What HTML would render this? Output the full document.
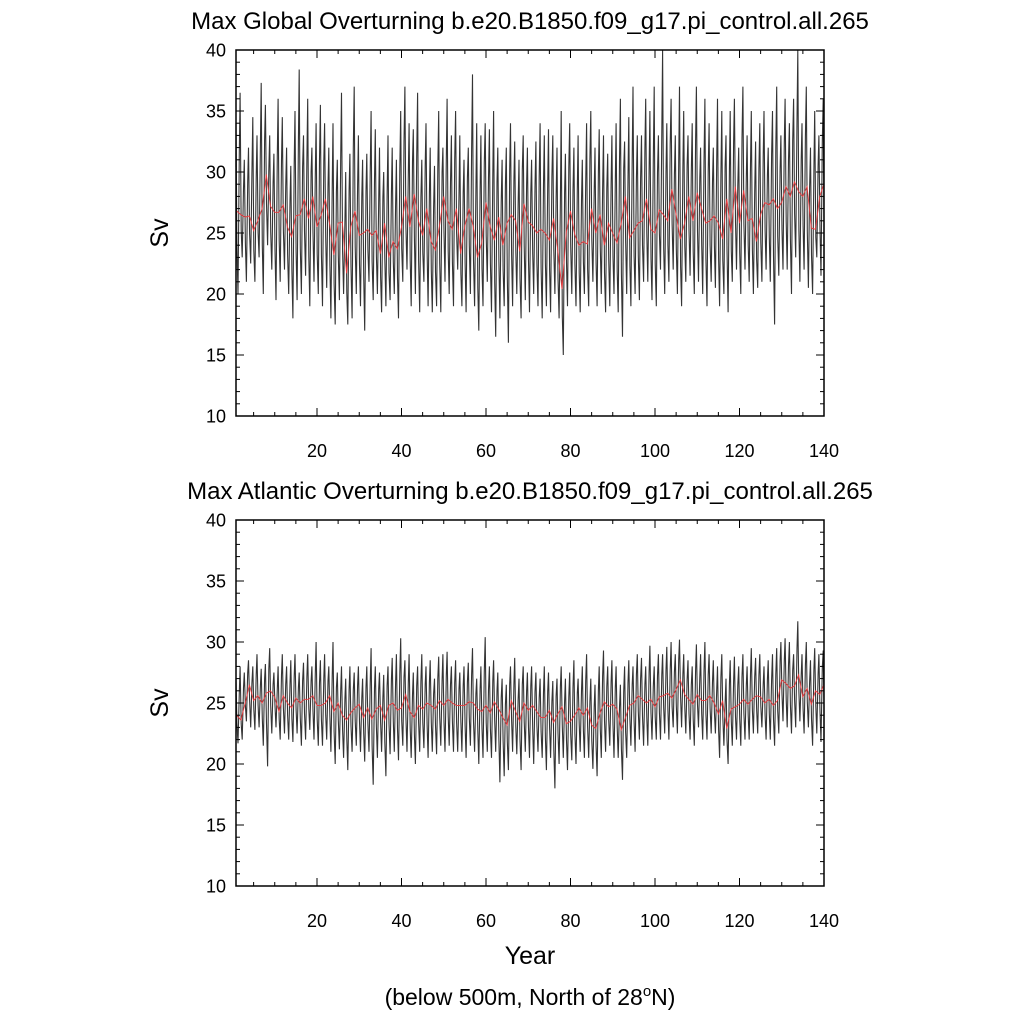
<!DOCTYPE html>
<html><head><meta charset="utf-8"><style>
body{margin:0;background:#fff}
svg text{font-family:"Liberation Sans",sans-serif;fill:#000}
</style></head><body>
<svg id="chart" width="1024" height="1024" xmlns="http://www.w3.org/2000/svg"></svg>
<script>
const xTicks=[20,40,60,80,100,120,140];
const yTicks=[10,15,20,25,30,35,40];
const globalMean=[26.8,26.5,26.3,26.4,25.2,26.0,27.0,29.8,27.2,26.7,26.7,27.3,25.5,24.7,26.4,26.5,27.8,26.2,28.0,25.5,26.5,27.8,25.7,23.2,25.8,25.9,21.7,25.5,26.8,24.8,25.0,25.3,24.8,25.2,23.3,25.8,23.0,24.3,23.7,25.5,28.0,25.5,28.2,26.0,24.8,27.0,24.3,23.6,25.6,28.0,26.0,25.3,27.0,23.3,25.6,27.0,25.5,23.0,24.2,27.5,25.5,24.4,26.3,24.0,25.8,26.5,26.0,23.5,27.4,25.9,25.6,25.0,25.3,25.0,24.4,26.2,23.6,20.4,25.1,26.8,24.9,24.0,24.3,24.1,27.0,25.0,26.5,24.0,25.8,25.0,24.2,25.8,28.0,24.6,25.2,25.8,26.0,27.8,25.3,25.0,26.9,26.5,26.0,28.6,26.5,24.5,25.8,28.0,26.0,28.3,27.0,25.8,26.0,26.4,25.8,24.5,27.8,25.0,28.8,25.8,28.5,26.0,26.2,24.3,26.5,27.5,27.3,27.8,27.0,27.5,28.8,28.0,29.2,28.4,28.0,28.8,25.4,25.3,28.0,29.0];
const globalHi=[34,36.5,31,32,34.5,33,37.3,35.5,33,31.5,36,34.5,32,30.5,35,38.4,33,36,32,34,35.5,34,32,34,31,36.5,30,31.5,37,33,31,31.5,35,33.5,32,30,33,32,31,35,37,34,33.5,36.5,31,34,32,30.5,35,32,36,33,35,33,31,32,38,34,33,34,33.5,35,32,31,32,34,32.5,31,33,32,31,32.5,34,33,33.5,33,32,35,31.5,34,32,33,31,34,35,32,33.5,33,31.5,33,34,36,32.5,34.5,37,33,33,36,35,37,33,40,34,36,33,37,35,33,34,37,32,36,34,32,36,35,33,35,36,32,37,33,35,32.5,34,35,32,35,37,33,36,34,36,40,34,37,32,35,33,36];
const globalLo=[20,23,21,22.5,21,23,20,24,22,19.5,21,22,20,18,19.5,20,21.5,19,21,20,19,20.5,18,17.5,19.5,20,17.5,18,20,19,17,21,19.5,20,18.5,19,19.5,20,18,21,22,19,20,18.5,21,19,18.5,19,18.5,21,20,19,22,19,18.5,20,19,17,19,21,18.5,16.5,18,19,16,19,20,18,19.5,18.5,20,19,18,19,18.5,20,18,15,19,20,19,18.5,20,19,21,19,20,18.5,19,20,18.5,16.5,20,19,20,19.5,21,21,19.5,19,22,20,21,22,20,19,21,21.5,20,21,20,19,21,20.5,19,20,18.5,21,22,20,22,21,20,20.5,21,22,21,17.5,21.5,22,22,20,23,21,22,20.5,20,23,21.5,22];
const atlMean=[24.0,23.6,25.0,26.5,25.2,25.6,25.0,25.8,26.0,25.5,24.3,25.6,25.0,24.6,25.4,25.0,25.3,25.3,25.6,24.8,24.8,25.0,25.6,24.3,25.0,24.0,23.6,24.2,24.6,24.9,23.8,24.6,23.7,24.5,24.8,23.6,24.8,25.0,24.4,24.6,25.7,24.3,23.8,24.8,24.5,25.0,24.8,24.5,25.2,24.8,25.3,25.0,24.8,24.8,24.8,25.1,25.0,24.5,24.3,24.8,24.2,25.1,24.5,23.8,23.2,25.2,24.3,23.5,25.0,24.4,24.8,24.3,23.8,23.8,24.4,23.4,24.1,24.7,23.3,23.5,24.0,24.6,24.0,24.6,23.2,22.9,24.2,25.1,24.7,24.9,24.5,22.8,23.8,24.8,25.0,25.6,25.3,25.0,25.3,24.7,25.5,25.6,25.8,25.4,26.1,26.9,25.7,25.3,24.9,25.7,25.2,25.2,25.6,25.0,24.1,25.2,22.9,24.5,24.7,24.9,25.3,24.9,25.3,25.6,25.5,25.0,25.3,24.8,25.2,26.9,26.6,26.2,26.4,27.3,25.5,26.2,24.9,26.0,25.7,26.5];
const atlHi=[27,28,27.5,28.5,28,29,27.8,28.2,29.5,27.5,28,29,28,28.5,29,27.5,28.3,29,28,30,28.5,29,28,30,27.5,28,27,28,27.5,28,27,28,29.5,28,27.5,27.3,28,28.7,29,30.3,28.5,29,27.5,28,29,28,28.5,27,28.8,29,29.2,28,28.5,27.5,28,28.3,29.5,27,28,30.4,28,28.5,27.5,27,26.5,28,28.7,27,28,27.5,28,27.5,27,28,27.5,26.8,27,28,27,27.5,28.5,27,28,29,27,26.5,28,29.3,28,28.5,28,26.5,28,28.5,28,29,28.7,28,29.7,28,29,29,29.6,30,29,30.2,29,28.5,28,29.8,29,30,29,28.5,28,29,27,28.5,28.8,28,29,28,29.5,28.7,29,28,28.5,29,29.5,30,30.3,30,29,31.7,29,30,28.5,29.5,29,29.3];
const atlLo=[21.7,22,23.5,23,22.8,23,21.5,19.8,22.5,23,22,22.5,22,21.8,22.5,21.5,22,22.8,22,21.5,21.5,22,21,20,21.2,20.5,19.5,21,21.5,21,20.2,21,18.3,20.5,21,19,20.8,21,20.3,21.5,21,20.5,20,21,21.3,20.5,21,20.8,21.5,21,21.5,21,21,21,20.5,21.5,21,20,20.5,21,20.5,21,18.5,19,19.5,21,20.8,19.5,21,20.5,20,21,20.5,19.5,20.5,18,20,20.5,19.5,20.3,20,21,20.5,20.5,19.6,19,20.5,21,21.5,20.5,20.5,18.7,20.5,21.5,21,22,21.5,21.5,22,22,22,22.5,22,23,22.5,23,22.5,22,21.5,23,22,22,22.5,22.5,20.5,21.5,20,21.5,22,21.5,22,22,22.5,22.5,23,22,22,21.5,22.5,23.5,23,22.5,23,23.5,22.5,23,21.5,22.5,21.8,22];

const svg=document.getElementById('chart');
const NS='http://www.w3.org/2000/svg';
function mk(tag,attrs,parent){const e=document.createElementNS(NS,tag);for(const k in attrs)e.setAttribute(k,attrs[k]);(parent||svg).appendChild(e);return e;}
const X0=236,X1=824,XMIN=0.83,XMAX=140;
function xs(v){return X0+(v-XMIN)/(XMAX-XMIN)*(X1-X0);}

function panel(name,top,title,mean,hi,lo){
  const bot=top+366;
  const ys=v=>bot-(v-10)/30*(bot-top);
  const g=mk('g',{});
  
  
  const t=mk('text',{x:530,y:top-21,'text-anchor':'middle','font-size':24},g);
  t.textContent=title;
  
  
  let pts=[];
  for(let i=0;i<mean.length;i++){
    const yr=i+1;
    const m=mean[i];
    pts.push(Math.max(X0,xs(yr-0.4)).toFixed(1)+','+ys((m+hi[i])/2).toFixed(1));
    pts.push(Math.max(X0,xs(yr-0.2)).toFixed(1)+','+ys(hi[i]).toFixed(1));
    pts.push(Math.min(X1,xs(yr+0.05)).toFixed(1)+','+ys((m+lo[i])/2+0.5).toFixed(1));
    pts.push(Math.min(X1,xs(yr+0.3)).toFixed(1)+','+ys(lo[i]).toFixed(1));
  }
  const bl=mk('polyline',{points:pts.join(' '),fill:'none',stroke:'#111','stroke-width':1.1,'stroke-opacity':0.85},g);
  
  
  let rp=mean.map((v,i)=>Math.max(X0,Math.min(X1,xs(i+1))).toFixed(1)+','+ys(v).toFixed(1));
  const rl=mk('polyline',{points:rp.join(' '),fill:'none',stroke:'#e8383b','stroke-width':0.9},g);
  
  
  const fr=mk('rect',{x:X0,y:top,width:X1-X0,height:bot-top,fill:'none',stroke:'#000','stroke-width':1.5},g);
  
  
  for(let v=5;v<=140;v+=5){
    const x=xs(v);if(x<X0)continue;
    const L=(v%20===0)?8:4;
    mk('line',{x1:x,x2:x,y1:bot,y2:bot-L,stroke:'#000','stroke-width':1},g);
    mk('line',{x1:x,x2:x,y1:top,y2:top+L,stroke:'#000','stroke-width':1},g);
  }
  xTicks.forEach(v=>{const tl=mk('text',{x:xs(v),y:bot+41,'text-anchor':'middle','font-size':18},g);tl.textContent=v;
    
    });
  for(let v=10;v<=40;v++){
    const y=ys(v);const L=(v%5===0)?8:4;
    mk('line',{x1:X0,x2:X0+L,y1:y,y2:y,stroke:'#000','stroke-width':1},g);
    mk('line',{x1:X1,x2:X1-L,y1:y,y2:y,stroke:'#000','stroke-width':1},g);
  }
  yTicks.forEach(v=>{const tl=mk('text',{x:226,y:ys(v)+6.5,'text-anchor':'end','font-size':18},g);tl.textContent=v;
    
    });
  const yl=mk('text',{x:0,y:0,'text-anchor':'middle','font-size':25,transform:`translate(168,${(top+bot)/2}) rotate(-90)`},g);
  yl.textContent='Sv';
  
  
}
panel('global-panel',50,'Max Global Overturning b.e20.B1850.f09_g17.pi_control.all.265',globalMean,globalHi,globalLo);
panel('atlantic-panel',520,'Max Atlantic Overturning b.e20.B1850.f09_g17.pi_control.all.265',atlMean,atlHi,atlLo);
const xt=mk('text',{x:530,y:964,'text-anchor':'middle','font-size':25});
xt.textContent='Year';


const st=mk('text',{x:530,y:1005,'text-anchor':'middle','font-size':23});
st.innerHTML='(below 500m, North of 28<tspan dy="-9" font-size="15">o</tspan><tspan dy="9">N)</tspan>';


</script>
</body></html>
